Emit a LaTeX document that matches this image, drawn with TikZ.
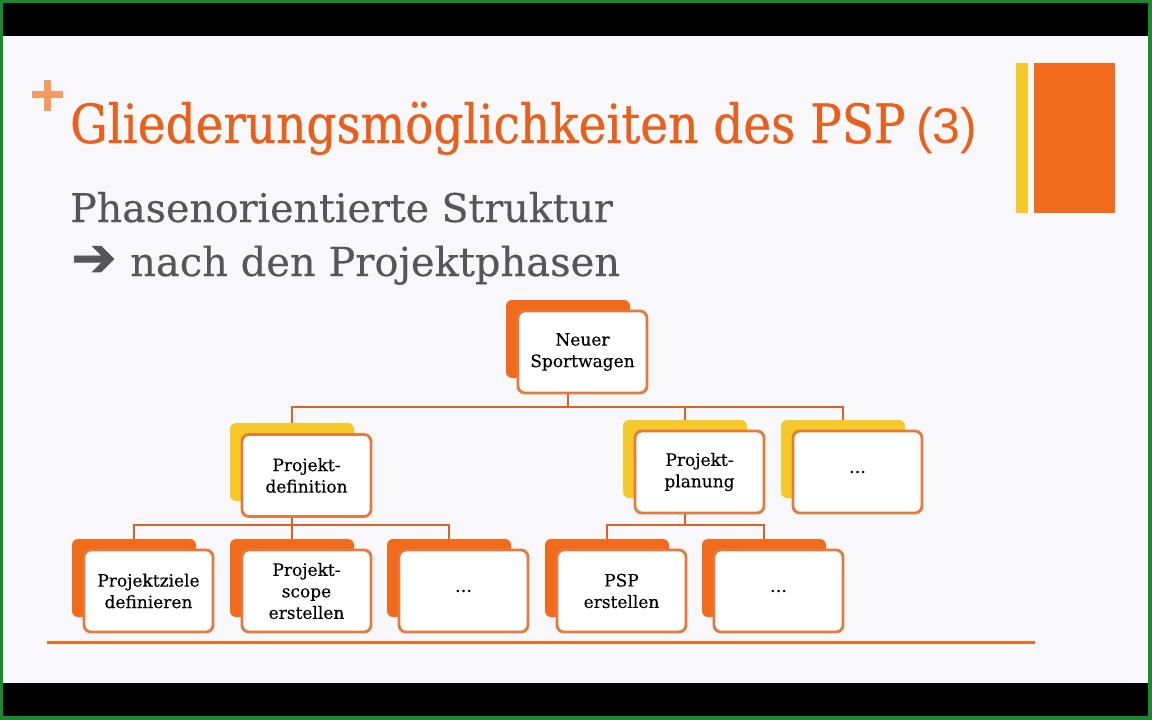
\documentclass[tikz,border=0pt]{standalone}
\usepackage{fontspec}
\setmainfont{DejaVu Serif}
\newfontfamily\rockt[FakeStretch=0.87,FakeBold=0.6]{DejaVu Serif}
\newfontfamily\rocks[FakeBold=0.3]{DejaVu Serif}
\newfontfamily\sansf{Liberation Sans}
\newfontfamily\symf[FakeBold=1.5]{DejaVu Sans}
\usetikzlibrary{backgrounds,calc}
\definecolor{slidebg}{HTML}{F8F7FA}
\definecolor{frameg}{HTML}{1C8A2C}
\definecolor{titleor}{HTML}{E8601C}
\definecolor{plusor}{HTML}{F39B62}
\definecolor{shadowor}{HTML}{F26B1D}
\definecolor{shadowye}{HTML}{F5C92A}
\definecolor{boxline}{HTML}{E47A3E}
\definecolor{connline}{HTML}{D9622B}
\definecolor{graytxt}{HTML}{56565A}
\begin{document}
\begin{tikzpicture}[x=1pt,y=-1pt,
  wbox/.style={draw=boxline,line width=2.8pt,fill=white,rounded corners=7pt,
    minimum width=129pt,minimum height=82pt,inner sep=0pt,align=center,
    font=\rocks\fontsize{17}{21.5}\selectfont,text=black},
  sboxo/.style={fill=shadowor,rounded corners=6pt,minimum width=124pt,minimum height=78pt,inner sep=0pt},
  sboxy/.style={fill=shadowye,rounded corners=6pt,minimum width=124pt,minimum height=78pt,inner sep=0pt},
  conn/.style={draw=connline,line width=2.8pt}]
\useasboundingbox (0,0) rectangle (1152,720);
\begin{pgfonlayer}{background}
\fill[frameg] (0,0) rectangle (1152,720);
\fill[slidebg] (3,3) rectangle (1148,716);
\fill[black] (3,3) rectangle (1148,36);
\fill[black] (3,683) rectangle (1148,716);
\end{pgfonlayer}
% plus sign
\fill[plusor] (32,90.5) rectangle (63,97.5);
\fill[plusor] (44,80) rectangle (51,111);
% right decoration
\fill[shadowye] (1016,63) rectangle (1028,213);
\fill[shadowor] (1034,63) rectangle (1115,213);
% title
\node[anchor=base west,inner sep=0pt,text=titleor,font=\rockt\fontsize{54}{60}\selectfont] (title) at (70,143) {Gliederungsmöglichkeiten des PSP};
\node[anchor=base west,inner sep=0pt,text=titleor,font=\sansf\fontsize{50}{60}\selectfont] (num) at (916,143) {(3)};
\node[anchor=base west,inner sep=0pt,text=graytxt,font=\rocks\fontsize{39.5}{46}\selectfont] (sub1) at (70,222) {Phasenorientierte Struktur};
\node[anchor=base west,inner sep=0pt,text=graytxt,font=\symf\fontsize{54}{56}\selectfont] (arr) at (71,276) {➔};
\node[anchor=base west,inner sep=0pt,text=graytxt,font=\rocks\fontsize{40}{46}\selectfont] (sub2) at (130,276) {nach den Projektphasen};
% boxes: shadows
\node[sboxo] (rootS) at (568,339) {};
\node[sboxy] (pdS) at (292,462) {};
\node[sboxy] (ppS) at (685,459) {};
\node[sboxy] (p3S) at (843,459) {};
\node[sboxo] (c1S) at (134,578) {};
\node[sboxo] (c2S) at (292,578) {};
\node[sboxo] (c3S) at (449,578) {};
\node[sboxo] (c4S) at (607,578) {};
\node[sboxo] (c5S) at (764,578) {};
% white boxes
\node[wbox] (root) at (582.5,352) {Neuer\\Sportwagen};
\node[wbox] (pd) at (306.5,475.5) {Projekt-\\definition};
\node[wbox] (pp) at (699.5,472) {Projekt-\\planung};
\node[wbox] (p3) at (857.5,472) {\dots};
\node[wbox] (c1) at (148.5,591) {Projektziele\\definieren};
\node[wbox] (c2) at (306.5,591) {Projekt-\\scope\\erstellen};
\node[wbox] (c3) at (463.5,591) {\dots};
\node[wbox] (c4) at (621.5,591) {PSP\\erstellen};
\node[wbox] (c5) at (778.5,591) {\dots};
% connectors
\coordinate (b1) at (568,407);
\coordinate (b2) at (292,525);
\coordinate (b3) at (685,525);
\begin{pgfonlayer}{background}
\draw[conn] (rootS.center) -- (b1);
\draw[conn] (b1) -| (pdS.center);
\draw[conn] (b1) -| (ppS.center);
\draw[conn] (b1) -| (p3S.center);
\draw[conn] (pdS.center) -- (b2);
\draw[conn] (b2) -| (c1S.center);
\draw[conn] (b2) -| (c2S.center);
\draw[conn] (b2) -| (c3S.center);
\draw[conn] (ppS.center) -- (b3);
\draw[conn] (b3) -| (c4S.center);
\draw[conn] (b3) -| (c5S.center);
\end{pgfonlayer}
% bottom line
\coordinate (bl1) at (47,642);
\coordinate (bl2) at (1035,642);
\draw[draw=shadowor,line width=3pt] (bl1) -- (bl2);
\end{tikzpicture}
\end{document}
